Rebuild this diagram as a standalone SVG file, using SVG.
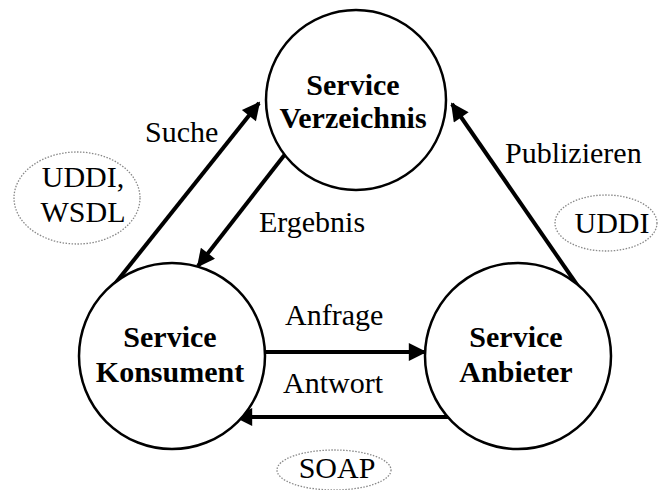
<svg xmlns="http://www.w3.org/2000/svg" width="660" height="490" viewBox="0 0 660 490">
  <defs>
    <marker id="arrow" viewBox="0 0 10 10" refX="9" refY="5" markerWidth="5" markerHeight="4.5" markerUnits="strokeWidth" orient="auto">
      <path d="M0,0 L10,5 L0,10 z" fill="#000"/>
    </marker>
    <style>
      .node circle { fill: #fff; stroke: #000; stroke-width: 2.5; }
      .node text { font-family: "Liberation Serif", "Times New Roman", serif; font-size: 30px; font-weight: bold; text-anchor: middle; fill: #000; }
      .edge { stroke: #000; stroke-width: 4; fill: none; marker-end: url(#arrow); }
      .lbl { font-family: "Liberation Serif", "Times New Roman", serif; font-size: 30px; fill: #000; }
      .tag ellipse { fill: none; stroke: #888; stroke-width: 1.3; stroke-dasharray: 1.5 1.5; }
      .tag text { font-family: "Liberation Serif", "Times New Roman", serif; font-size: 30px; text-anchor: middle; fill: #000; }
    </style>
  </defs>

  <!-- connectors -->
  <g id="connectors">
    <line class="edge" x1="110" y1="290" x2="259" y2="103"/>
    <line class="edge" x1="286" y1="153" x2="198" y2="266"/>
    <line class="edge" x1="582" y1="292" x2="452" y2="104"/>
    <line class="edge" x1="265" y1="352" x2="425" y2="352"/>
    <line class="edge" x1="452" y1="417" x2="236" y2="417"/>
  </g>

  <!-- nodes -->
  <g id="verzeichnis" class="node">
    <circle cx="356" cy="100" r="90"/>
    <text x="353" y="95">Service</text>
    <text x="353" y="128">Verzeichnis</text>
  </g>
  <g id="konsument" class="node">
    <circle cx="172" cy="356" r="93"/>
    <text x="170" y="347">Service</text>
    <text x="170" y="382">Konsument</text>
  </g>
  <g id="anbieter" class="node">
    <circle cx="518" cy="356" r="93"/>
    <text x="516" y="347">Service</text>
    <text x="516" y="382">Anbieter</text>
  </g>

  <!-- connector labels -->
  <g id="labels">
    <text class="lbl" x="145" y="142">Suche</text>
    <text class="lbl" x="259" y="232">Ergebnis</text>
    <text class="lbl" x="505" y="163">Publizieren</text>
    <text class="lbl" x="285" y="325">Anfrage</text>
    <text class="lbl" x="283" y="393">Antwort</text>
  </g>

  <!-- protocol tags -->
  <g id="tag-uddi-wsdl" class="tag">
    <ellipse cx="77" cy="198" rx="63" ry="46"/>
    <text x="83" y="187">UDDI,</text>
    <text x="83" y="222">WSDL</text>
  </g>
  <g id="tag-uddi" class="tag">
    <ellipse cx="606" cy="223" rx="51" ry="28"/>
    <text x="612" y="233">UDDI</text>
  </g>
  <g id="tag-soap" class="tag">
    <ellipse cx="334" cy="470" rx="57" ry="20"/>
    <text x="337" y="478">SOAP</text>
  </g>
</svg>
